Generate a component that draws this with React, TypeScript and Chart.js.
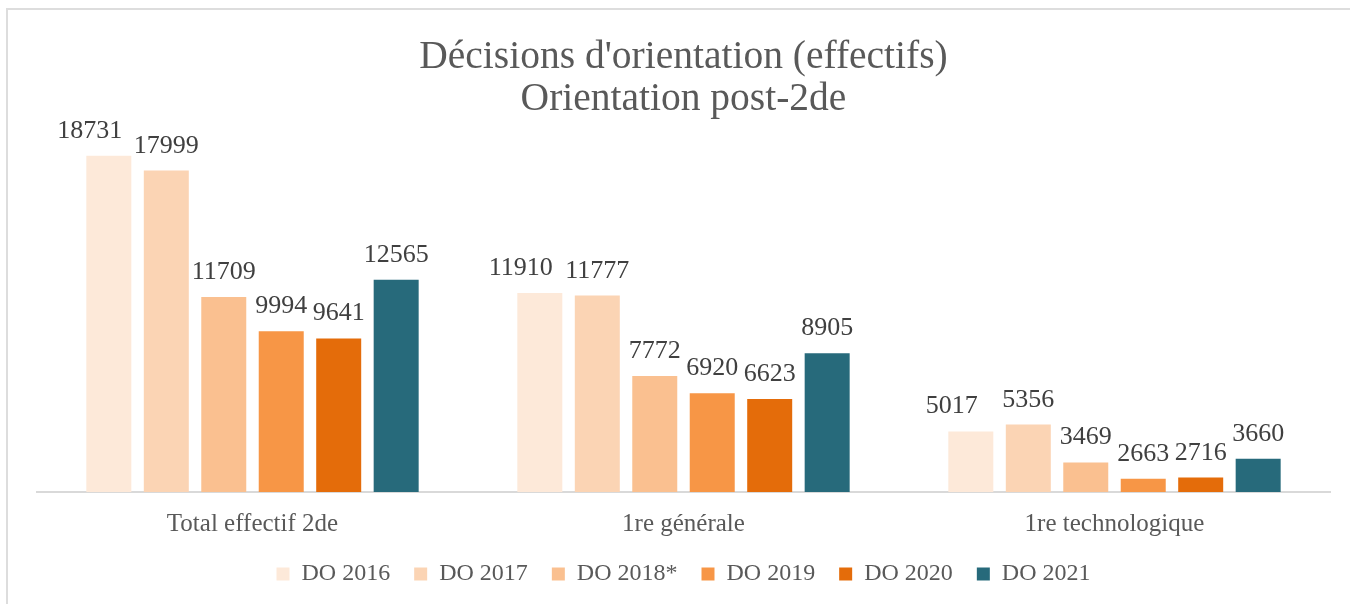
import React, { useEffect, useRef } from "react";
import { Chart, registerables } from "chart.js";

Chart.register(...registerables);

const categories = ["Total effectif 2de", "1re générale", "1re technologique"];
const seriesLabels = ["DO 2016", "DO 2017", "DO 2018*", "DO 2019", "DO 2020", "DO 2021"];
const do2016 = [18731, 11910, 5017];
const do2017 = [17999, 11777, 5356];
const do2018 = [11709, 7772, 3469];
const do2019 = [9994, 6920, 2663];
const do2020 = [9641, 6623, 2716];
const do2021 = [12565, 8905, 3660];
const titleLines = ["Décisions d'orientation (effectifs)", "Orientation post-2de"];

const colors = ["#FDE9D9", "#FBD4B4", "#FAC090", "#F79646", "#E46C0A", "#276A7B"];
const FONT = "'Liberation Serif', 'Times New Roman', serif";

const dataLabelPlugin = {
  id: "barValueLabels",
  afterDatasetsDraw(chart: any) {
    const ctx = chart.ctx;
    ctx.save();
    ctx.font = `26px ${FONT}`;
    ctx.fillStyle = "#404040";
    ctx.textAlign = "center";
    ctx.textBaseline = "alphabetic";
    chart.data.datasets.forEach((ds: any, di: number) => {
      const meta = chart.getDatasetMeta(di);
      const shift = ds.labelShift || 0;
      meta.data.forEach((el: any, i: number) => {
        ctx.fillText(String(ds.data[i]), el.x + shift, el.y - 18);
      });
    });
    ctx.restore();
  },
};

export default function App() {
  const ref = useRef<HTMLCanvasElement | null>(null);
  useEffect(() => {
    if (!ref.current) return;
    const values = [do2016, do2017, do2018, do2019, do2020, do2021];
    const chart = new Chart(ref.current, {
      type: "bar",
      data: {
        labels: categories,
        datasets: values.map((v, i) => ({
          label: seriesLabels[i],
          data: v,
          backgroundColor: colors[i],
          borderWidth: 0,
          categoryPercentage: 0.8,
          barPercentage: 0.783,
          labelShift: i === 0 ? -19 : 0,
        })) as any,
      },
      options: {
        responsive: false,
        animation: false,
        devicePixelRatio: 1,
        layout: { padding: { left: 37, right: 20, top: 0, bottom: 8 } },
        scales: {
          x: {
            grid: { display: false, drawTicks: false },
            border: { display: true, color: "#D9D9D9", width: 2 },
            ticks: { color: "#595959", font: { family: FONT, size: 25 }, padding: 17 },
            afterFit: (scale: any) => {
              scale.height -= 18;
            },
          },
          y: { display: false, min: 2000, max: 20000 },
        },
        plugins: {
          title: {
            display: true,
            text: titleLines,
            color: "#595959",
            font: { family: FONT, size: 39.5, weight: "normal", lineHeight: 1.08 },
            padding: { top: 36, bottom: 9 },
          },
          legend: {
            position: "bottom",
            labels: {
              boxWidth: 13,
              boxHeight: 13,
              color: "#595959",
              font: { family: FONT, size: 24 },
              padding: 24,
            },
          },
          tooltip: { enabled: false },
        },
      } as any,
      plugins: [dataLabelPlugin],
    });
    return () => chart.destroy();
  }, []);
  return (
    <div style={{ position: "absolute", left: 0, top: 0, width: 1350, height: 604, background: "#fff" }}>
      <canvas ref={ref} width={1350} height={604} style={{ position: "absolute", left: 0, top: 0 }} />
      <div style={{ position: "absolute", left: 6, top: 8, width: 1344, height: 2, background: "#DDDDDD" }} />
      <div style={{ position: "absolute", left: 6, top: 8, width: 2, height: 596, background: "#DDDDDD" }} />
    </div>
  );
}
